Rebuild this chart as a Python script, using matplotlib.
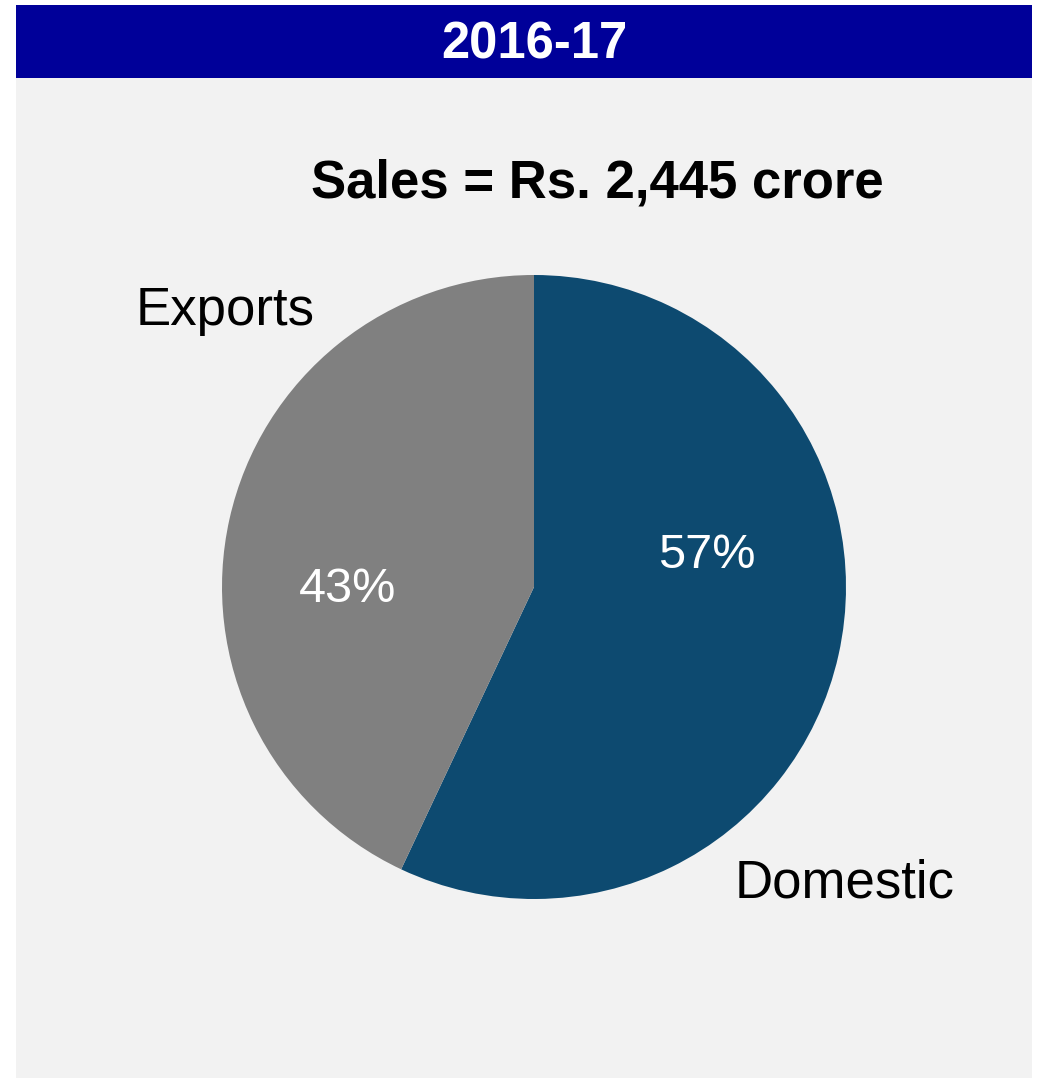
import matplotlib.pyplot as plt
from matplotlib.patches import Rectangle

# datos del gráfico
labels = ["Domestic", "Exports"]
shares = [57, 43]
colors = ["#0D4A70", "#808080"]
year = "2016-17"
title = "Sales = Rs. 2,445 crore"

W, H = 1038, 1081
fig = plt.figure(figsize=(W / 100, H / 100), dpi=100)
fig.patch.set_facecolor("white")
plt.rcParams['font.family'] = ['Liberation Sans', 'DejaVu Sans']

def fx(px):
    return px / W

def fy(py):
    return 1 - py / H

# panel gris y cabecera azul
fig.patches.append(Rectangle((fx(16), fy(1078)), fx(1032 - 16), (1078 - 78) / H,
                             transform=fig.transFigure, facecolor="#F2F2F2",
                             edgecolor="none", zorder=0))
fig.patches.append(Rectangle((fx(16), fy(78)), fx(1032 - 16), (78 - 5) / H,
                             transform=fig.transFigure, facecolor="#000099",
                             edgecolor="none", zorder=0))

fig.text(fx(534), fy(45), year, ha="center", va="center", color="white",
         fontsize=36.5, fontweight="bold")
fig.text(fx(597), fy(183), title, ha="center", va="center", color="black",
         fontsize=38, fontweight="bold")

# tarta
cx, cy, r = 534, 587, 312
ax = fig.add_axes([fx(cx - r), (H - cy - r) / H, fx(2 * r), 2 * r / H])
ax.set_zorder(2)
ax.patch.set_visible(False)
ax.pie(shares, colors=colors, startangle=90, counterclock=False,
       wedgeprops=dict(linewidth=0), radius=1)
ax.set_xlim(-1, 1)
ax.set_ylim(-1, 1)
ax.set_aspect("auto")
ax.axis("off")

# etiquetas de porcentaje y de categoría
fig.text(fx(707), fy(556), f"{shares[0]}%", ha="center", va="center", color="white",
         fontsize=35, zorder=5)
fig.text(fx(348), fy(590), f"{shares[1]}%", ha="center", va="center", color="white",
         fontsize=35, zorder=5)
fig.text(fx(225), fy(311), labels[1], ha="center", va="center", color="black", fontsize=38)
fig.text(fx(845), fy(883), labels[0], ha="center", va="center", color="black", fontsize=38)

fig.savefig("out.png", dpi=100, facecolor=fig.get_facecolor())
